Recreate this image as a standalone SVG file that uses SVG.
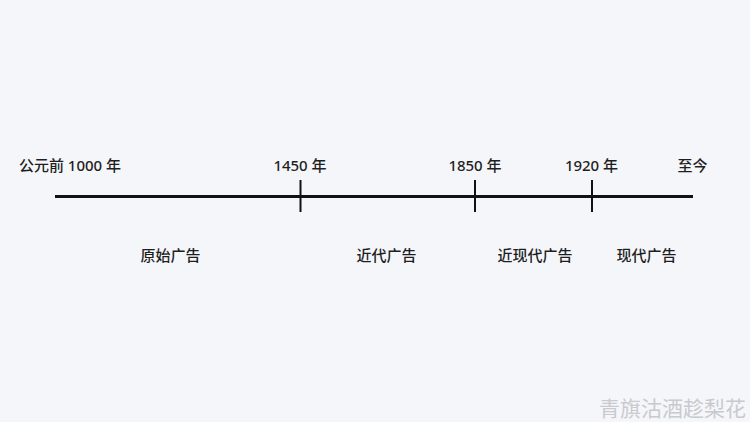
<svg xmlns="http://www.w3.org/2000/svg" width="750" height="422" viewBox="0 0 750 422">
<style>
.lbl{font-family:"Noto Sans","Noto Sans CJK SC",sans-serif;font-size:15px;font-weight:500;fill:#1f1f1f;text-anchor:middle}
.axis{stroke:#111;stroke-width:3;fill:none}
.tick{stroke:#111;stroke-width:2;fill:none}
.wm{font-family:"Noto Sans CJK SC",sans-serif;font-size:21px;fill:#c9cace;text-anchor:end}
</style>
<rect width="750" height="422" fill="#f5f6fa"/>
<g id="connectors">
<line class="axis" x1="55" y1="196.5" x2="693" y2="196.5"/>
<line class="tick" x1="300.5" y1="180" x2="300.5" y2="212"/>
<line class="tick" x1="475" y1="180" x2="475" y2="212"/>
<line class="tick" x1="592" y1="180" x2="592" y2="212"/>
</g>
<g id="t0"><text class="lbl" x="70" y="171">公元前 1000 年</text></g>
<g id="t1"><text class="lbl" x="300" y="171">1450 年</text></g>
<g id="t2"><text class="lbl" x="475" y="171">1850 年</text></g>
<g id="t3"><text class="lbl" x="591.5" y="171">1920 年</text></g>
<g id="t4"><text class="lbl" x="692.5" y="171">至今</text></g>
<g id="p1"><text class="lbl" x="170.5" y="261">原始广告</text></g>
<g id="p2"><text class="lbl" x="386.5" y="261">近代广告</text></g>
<g id="p3"><text class="lbl" x="535" y="261">近现代广告</text></g>
<g id="p4"><text class="lbl" x="646.5" y="261">现代广告</text></g>
<text class="wm" x="746" y="416">青旗沽酒趁梨花</text>
</svg>
